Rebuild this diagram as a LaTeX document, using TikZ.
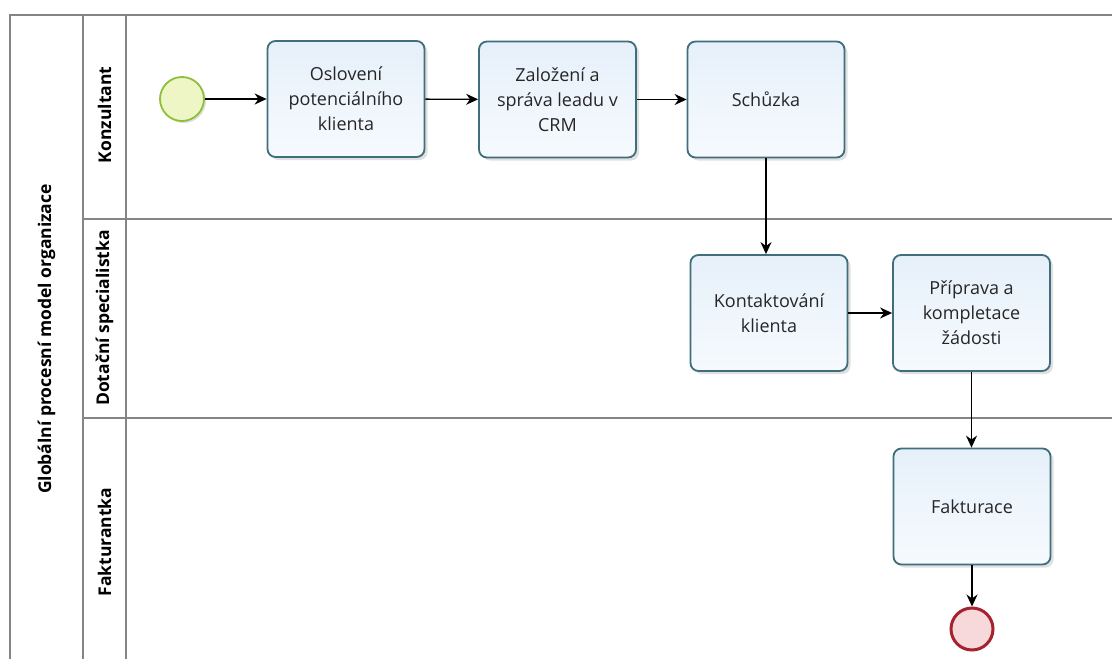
\documentclass[tikz,border=0pt]{standalone}
\usepackage{fontspec}
\setmainfont{Open Sans}
\usetikzlibrary{arrows.meta,shadows}

\definecolor{laneline}{HTML}{858585}
\definecolor{taskborder}{HTML}{3F6E7C}
\definecolor{tasktop}{HTML}{E6F0FA}
\definecolor{taskbottom}{HTML}{F6FAFE}
\definecolor{startfill}{HTML}{EEF6C6}
\definecolor{startborder}{HTML}{8DBF3A}
\definecolor{endfill}{HTML}{F7D9DB}
\definecolor{endborder}{HTML}{A5232E}

\tikzset{
  lane/.style={draw=laneline, line width=1.6pt},
  task/.style={rounded corners=8pt, draw=taskborder, line width=1.8pt,
    top color=tasktop, bottom color=taskbottom,
    minimum width=157pt, minimum height=116pt, align=center,
    font=\fontsize{18}{25}\selectfont, text=black!85,
    drop shadow={shadow xshift=3pt, shadow yshift=-3pt, opacity=0.12, fill=black}},
  startev/.style={circle, draw=startborder, line width=1.8pt, fill=startfill,
    minimum size=44pt, inner sep=0pt,
    drop shadow={shadow xshift=2pt, shadow yshift=-2pt, opacity=0.12, fill=black}},
  endev/.style={circle, draw=endborder, line width=3pt, fill=endfill,
    minimum size=42pt, inner sep=0pt},
  flow/.style={draw=black, line width=1.4pt, -{Stealth[length=12pt,width=11pt]}},
  lanelabel/.style={rotate=90, font=\bfseries\fontsize{17.5}{20}\selectfont},
}

\begin{document}
\begin{tikzpicture}[x=1pt,y=-1pt]
  \useasboundingbox (0,0) rectangle (1112,659);
  \fill[white] (0,0) rectangle (1112,659);

  % pool and lane frame
  \draw[lane] (1112,15) -- (10,15) -- (10,659);
  \draw[lane] (83,15) -- (83,659);
  \draw[lane] (126,15) -- (126,659);
  \draw[lane] (83,219) -- (1112,219);
  \draw[lane] (83,418) -- (1112,418);

  % pool and lane titles
  \node[lanelabel] (pool) at (46.5,339) {Globální procesní model organizace};
  \node[lanelabel] (l1) at (104.5,115) {Konzultant};
  \node[lanelabel] (l2) at (104.5,318) {Dotační specialistka};
  \node[lanelabel] (l3) at (104.5,542) {Fakturantka};

  % events and tasks
  \node[startev] (start) at (182,99) {};
  \node[task] (t1) at (346,99) {Oslovení\\potenciálního\\klienta};
  \node[task] (t2) at (557.5,99.5) {Založení a\\správa leadu v\\CRM};
  \node[task] (t3) at (766,99.5) {Schůzka};
  \node[task] (t4) at (769,313) {Kontaktování\\klienta};
  \node[task] (t5) at (971.5,313) {Příprava a\\kompletace\\žádosti};
  \node[task] (t6) at (972,506.5) {Fakturace};
  \node[endev] (end) at (972,629) {};

  % sequence flows
  \draw[flow] (start) -- (t1);
  \draw[flow] (t1) -- (t2);
  \draw[flow] (t2) -- (t3);
  \draw[flow] (t3.south) -- (t3.south |- t4.north);
  \draw[flow] (t4) -- (t5);
  \draw[flow] (t5.south) -- (t5.south |- t6.north);
  \draw[flow] (t6) -- (end);
\end{tikzpicture}
\end{document}
